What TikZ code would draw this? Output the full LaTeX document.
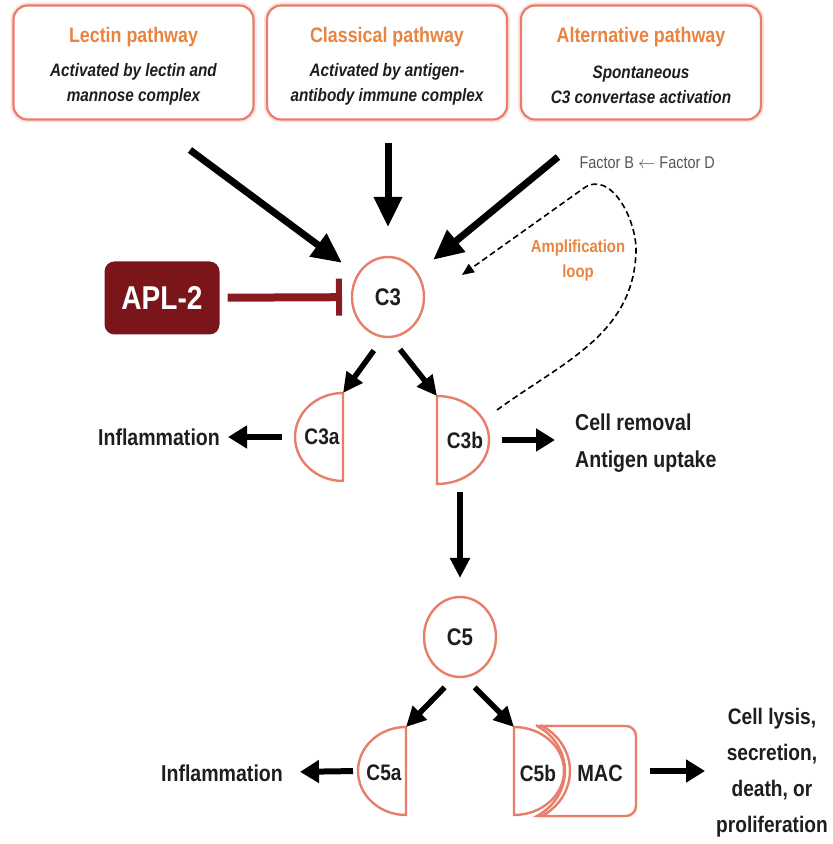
\documentclass[tikz,border=0pt]{standalone}
\usepackage{fontspec}
\setmainfont{Liberation Sans}[FakeStretch=0.85]
\usetikzlibrary{arrows.meta,shapes.geometric,calc}
\definecolor{pathclr}{RGB}{233,132,64}
\definecolor{lineclr}{RGB}{232,126,106}
\definecolor{aplclr}{RGB}{122,22,26}
\definecolor{inhclr}{RGB}{136,28,34}
\definecolor{txtclr}{RGB}{30,30,30}
\definecolor{fctclr}{RGB}{85,85,85}
\tikzset{
    pathbox/.style={rectangle,draw=lineclr,line width=2.2pt,rounded corners=14pt,fill=white,
        preaction={draw=lineclr!22,line width=6pt},minimum width=240pt,minimum height=114pt},
    ptitle/.style={font=\fontsize{21}{25}\selectfont\bfseries,text=pathclr,inner sep=1pt},
    pdesc/.style={align=center,font=\fontsize{18}{25}\selectfont\bfseries\itshape,text=txtclr,inner sep=1pt},
    comp/.style={ellipse,draw=lineclr,line width=2.4pt,fill=white,minimum width=72pt,minimum height=80pt,
        inner sep=0pt,outer sep=0pt,font=\fontsize{24}{24}\selectfont\bfseries,text=txtclr},
    frag/.style={draw=lineclr,line width=2.4pt,fill=white},
    fragtxt/.style={font=\fontsize{22.5}{22.5}\selectfont\bfseries,text=txtclr,inner sep=0pt},
    effect/.style={font=\fontsize{23}{37}\selectfont\bfseries,text=txtclr,inner sep=2pt},
    aplbox/.style={rectangle,rounded corners=10pt,fill=aplclr,text=white,minimum width=115pt,
        minimum height=73pt,font=\fontsize{33}{33}\selectfont\bfseries},
    mainarr/.style={line width=7pt,-{Triangle[length=30pt,width=27pt]}},
    splitarr/.style={line width=5.5pt,-{Triangle[length=20pt,width=19pt]}},
    sidearr/.style={line width=6pt,-{Triangle[length=19pt,width=22pt]}},
    inhib/.style={draw=inhclr,line width=8pt,-{Bar[width=37pt,line width=6pt]}},
    ampline/.style={line width=1.6pt,dash pattern=on 6pt off 3.5pt,-{Triangle[length=12pt,width=10pt]}},
}

\begin{document}
\begin{tikzpicture}[x=1pt,y=1pt]
\useasboundingbox (0,0) rectangle (833,844);

\node[pathbox] (lectin) at (133.5,781.5) {};
\node[ptitle] (lectinT) at ([yshift=25pt]lectin.center) {Lectin pathway};
\node[pdesc]  (lectinD) at ([yshift=-22pt]lectin.center) {Activated by lectin and\\mannose complex};
\node[pathbox] (classical) at (387,781.5) {};
\node[ptitle] (classicalT) at ([yshift=25pt]classical.center) {Classical pathway};
\node[pdesc]  (classicalD) at ([yshift=-22pt]classical.center) {Activated by antigen-\\antibody immune complex};
\node[pathbox] (alternative) at (641,781.5) {};
\node[ptitle] (alternativeT) at ([yshift=25pt]alternative.center) {Alternative pathway};
\node[pdesc]  (alternativeD) at ([yshift=-22pt]alternative.center) {Spontaneous\\C3 convertase activation};
\node[anchor=west,font=\fontsize{17}{17}\selectfont,text=fctclr] (factor) at (576,681) {Factor B $\leftarrow$ Factor D};

\node[comp] (c3) at (388,547) {C3};
\node[aplbox] (apl) at (162,546) {APL-2};
\node[align=center,font=\fontsize{17.5}{25}\selectfont\bfseries,text=pathclr] (amp) at (578,584) {Amplification\\loop};

\coordinate (lecS) at (190,694);
\coordinate (clsS) at (388,701);
\coordinate (altS) at (558,687);
\draw[mainarr,shorten >=20pt] (lecS) -- (c3);
\draw[mainarr,shorten >=30pt] (clsS) -- (c3);
\draw[mainarr,shorten >=21pt] (altS) -- (c3);
\draw[inhib,shorten <=8pt,shorten >=10pt] (apl) -- (c3);

\draw[frag] (343,451) coordinate (c3aN) arc[start angle=90,end angle=270,x radius=48,y radius=44] -- cycle;
\coordinate (c3aW) at (295,407);
\node[fragtxt] (c3a) at (322,407) {C3a};
\draw[frag] (437,448) coordinate (c3bN) arc[start angle=90,end angle=-90,x radius=52,y radius=44] -- cycle;
\coordinate (c3bE) at (489,404);
\node[fragtxt] (c3b) at (465,404) {C3b};

\node[effect] (inflA) at (159,407) {Inflammation};
\node[effect,anchor=west,align=left] (removal) at (573,401) {Cell removal\\Antigen uptake};

\draw[splitarr,shorten <=17pt] (c3.-96) -- (c3aN);
\draw[splitarr,shorten <=16pt] (c3.-87) -- (c3bN);
\draw[sidearr,shorten <=13pt,shorten >=6pt] (c3aW) -- (inflA);
\draw[sidearr,shorten <=13pt,shorten >=18pt] (c3bE) -- (c3bE -| removal.west);

\coordinate (ampS) at (497,434);
\coordinate (ampT) at (462,569);
\draw[ampline] (ampS) to[out=36,in=-92] (636,592) to[out=88,in=35] (584,656) -- (ampT);

\node[comp] (c5) at (460,207) {C5};
\coordinate (c3bS) at (460,352);
\draw[splitarr,shorten >=19pt] (c3bS) -- (c5);

\draw[frag] (406,117) coordinate (c5aN) arc[start angle=90,end angle=270,x radius=48,y radius=44] -- cycle;
\coordinate (c5aW) at (358,73);
\node[fragtxt] (c5a) at (384,71) {C5a};

\draw[frag,xshift=-5pt] (542,118) -- (626,118) arc[start angle=90,end angle=0,radius=10] -- (636,38)
    arc[start angle=0,end angle=-90,radius=10] -- (542,28) arc[start angle=-60,end angle=60,x radius=56,y radius=52] -- cycle;
\draw[frag] (542,118) -- (626,118) arc[start angle=90,end angle=0,radius=10] -- (636,38)
    arc[start angle=0,end angle=-90,radius=10] -- (542,28) arc[start angle=-60,end angle=60,x radius=56,y radius=52] -- cycle;
\coordinate (macE) at (636,73);
\node[fragtxt,font=\fontsize{23.5}{23.5}\selectfont\bfseries] (mac) at (600,71) {MAC};
\draw[frag] (514,117) coordinate (c5bN) arc[start angle=90,end angle=-90,x radius=50,y radius=44] -- cycle;
\node[fragtxt] (c5b) at (538,71) {C5b};

\node[effect] (inflB) at (222,71) {Inflammation};
\node[effect,align=center,font=\fontsize{22.5}{36}\selectfont\bfseries] (lysis) at (772,71) {Cell lysis,\\secretion,\\death, or\\proliferation};

\draw[splitarr,shorten <=15pt] (c5.-97) -- (c5aN);
\draw[splitarr,shorten <=15pt] (c5.-84) -- (c5bN);
\draw[sidearr,shorten <=5pt,shorten >=15pt] (c5aW) -- (inflB);
\draw[sidearr,shorten <=14pt,shorten >=9pt] (macE) -- (lysis.west |- macE);
\end{tikzpicture}
\end{document}
